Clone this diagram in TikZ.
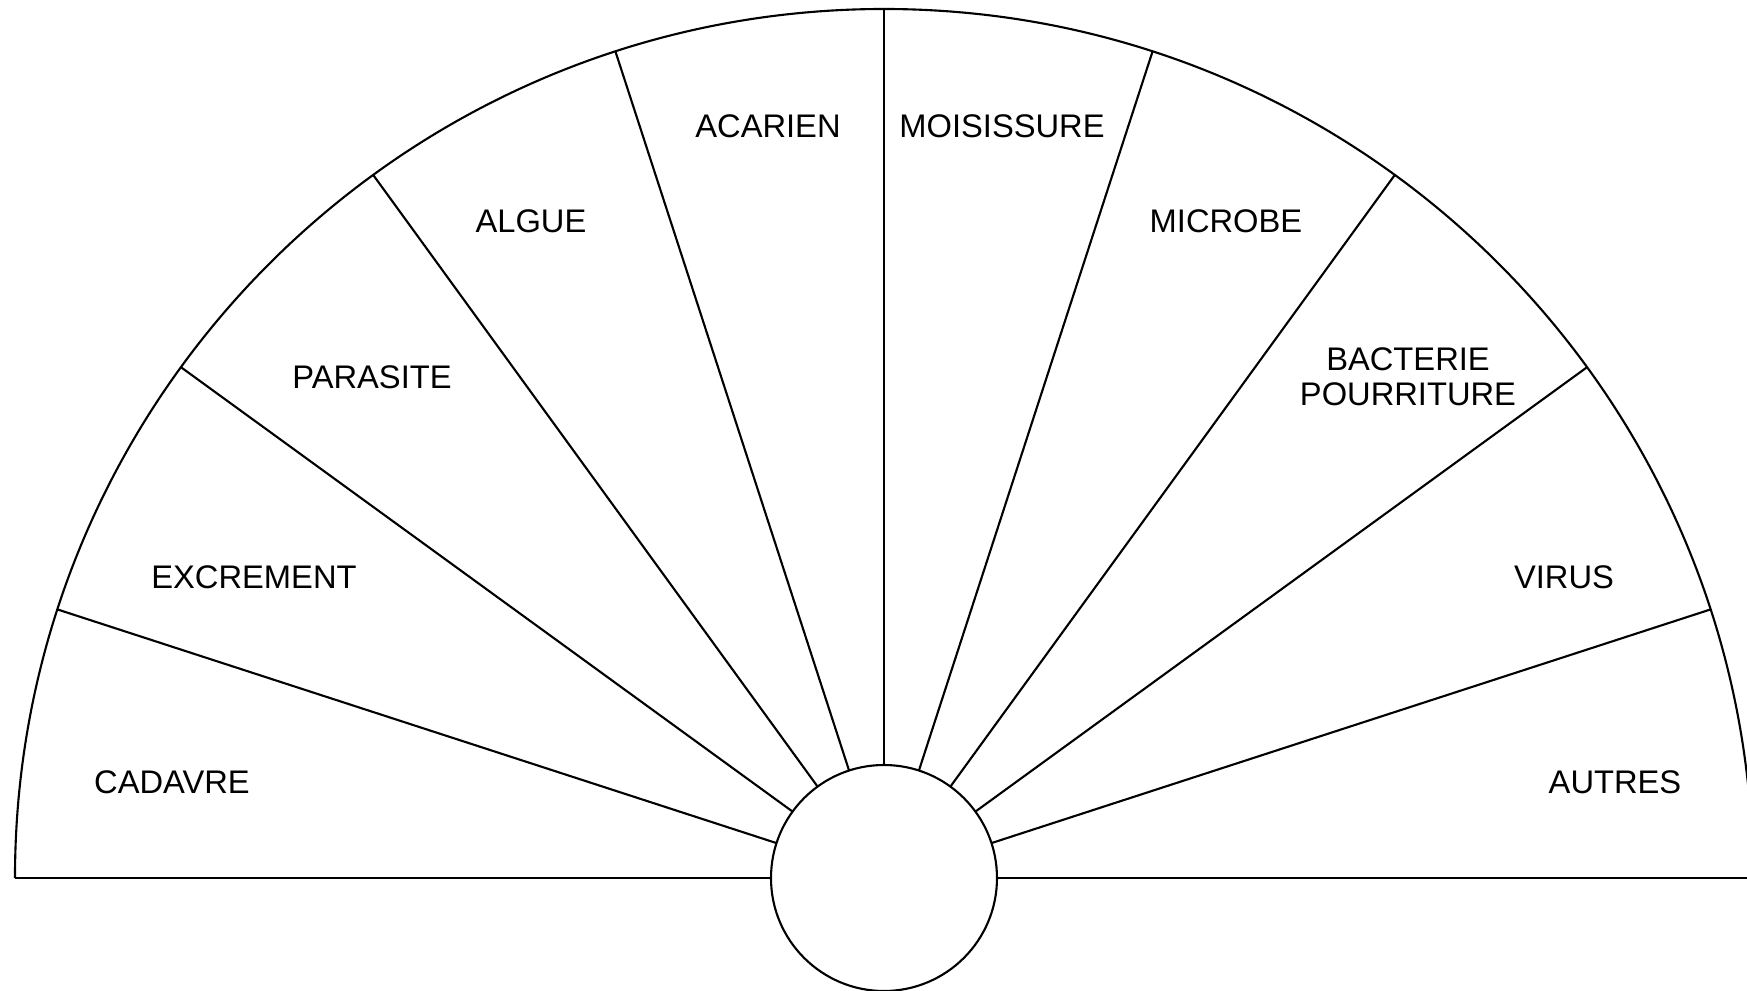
\documentclass[tikz,border=0pt]{standalone}
\usepackage{fontspec}
\setmainfont{Liberation Sans}
\usetikzlibrary{positioning}

\begin{document}
\begin{tikzpicture}[
    line/.style={draw, line width=0.6pt},
    hub/.style={draw, circle, line width=0.6pt, minimum size=2.26cm, inner sep=0pt, outer sep=0pt},
    lbl/.style={font=\fontsize{9.3}{10}\selectfont, align=center, inner sep=0pt},
]
\useasboundingbox (-8.84,-1.12) rectangle (8.63,8.78);

% centre and half disc
\node[hub] (hub) at (0,0) {};
\draw[line] (180:8.69) arc[start angle=180, end angle=0, radius=8.69];
\draw[line] (hub.west) -- (180:8.69);
\draw[line] (hub.east) -- (0:8.69);
\foreach \a in {18,36,...,162}
    \draw[line] (hub.\a) -- (\a:8.69);

% sector labels
\foreach \x/\y/\txt [count=\i] in {
    -7.12/0.96/CADAVRE, -6.30/3.01/EXCREMENT, -5.12/5.01/PARASITE,
    -3.53/6.57/ALGUE, -1.16/7.52/ACARIEN, 1.18/7.52/MOISISSURE,
    3.42/6.57/MICROBE, 5.24/5.01/{BACTERIE\\POURRITURE},
    6.80/3.01/VIRUS, 7.31/0.96/AUTRES}
    \node[lbl] (sec\i) at (\x,\y) {\txt};
\end{tikzpicture}
\end{document}
